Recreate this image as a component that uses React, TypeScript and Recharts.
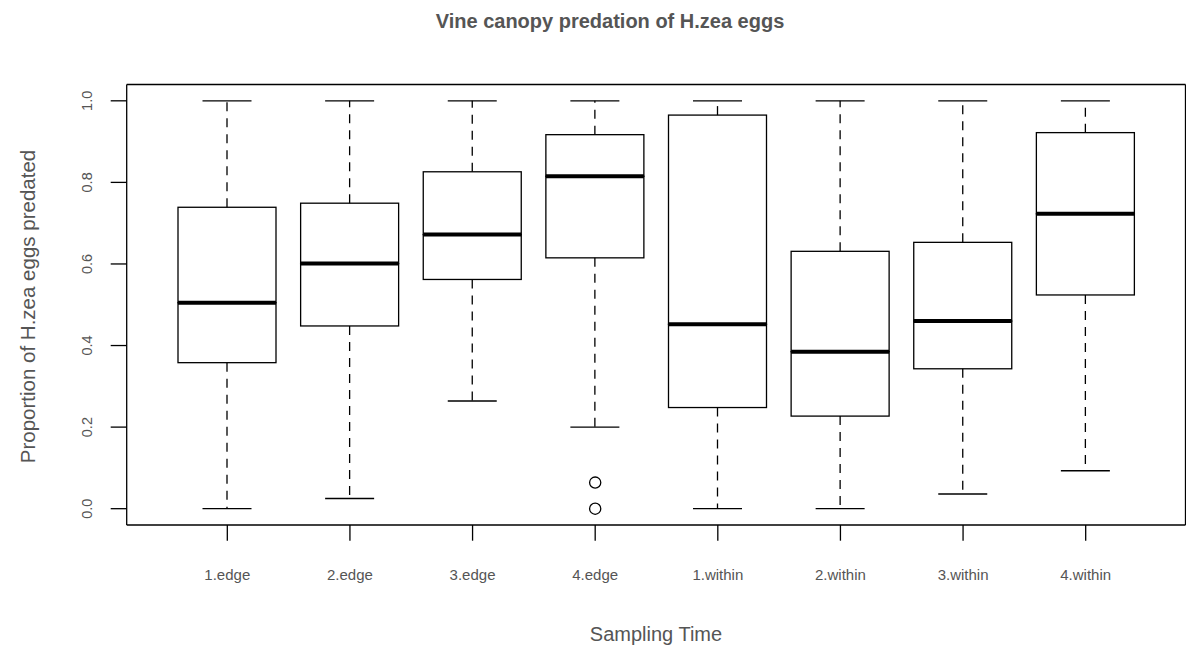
import React from "react";
import { ComposedChart, Bar, Scatter, XAxis, YAxis } from "recharts";

const categories = ["1.edge", "2.edge", "3.edge", "4.edge", "1.within", "2.within", "3.within", "4.within"];
const lowerWhisker = [0, 0.025, 0.264, 0.2, 0, 0, 0.036, 0.093];
const lowerQuartile = [0.358, 0.448, 0.562, 0.615, 0.248, 0.227, 0.343, 0.524];
const medians = [0.505, 0.601, 0.672, 0.815, 0.452, 0.385, 0.46, 0.723];
const upperQuartile = [0.739, 0.749, 0.826, 0.917, 0.965, 0.631, 0.653, 0.922];
const upperWhisker = [1, 1, 1, 1, 1, 1, 1, 1];
const outlierGroups = ["4.edge", "4.edge"];
const outlierValues = [0.064, 0];
const yTicks = [0, 0.2, 0.4, 0.6, 0.8, 1.0];

const data = categories.map((cat, i) => {
  const outs = outlierValues.filter((_, j) => outlierGroups[j] === cat);
  return {
    cat,
    base: lowerWhisker[i],
    lowW: lowerQuartile[i] - lowerWhisker[i],
    boxLow: medians[i] - lowerQuartile[i],
    boxHigh: upperQuartile[i] - medians[i],
    highW: upperWhisker[i] - upperQuartile[i],
    out1: outs.length > 0 ? outs[0] : null,
    out2: outs.length > 1 ? outs[1] : null,
  };
});

const FONT = "'Liberation Sans', Arial, Helvetica, sans-serif";
const TEXT = "#555";
const LINE = 1.3;
const frame = { stroke: "#000", strokeWidth: LINE };
const xPadding = { left: 39.3, right: 38.5 };

const Nothing = () => <g />;

const LowerWhisker = (p: any) => {
  const cx = p.x + p.width / 2;
  const cap = p.width / 4;
  const bottom = p.y + p.height;
  return (
    <g>
      <line x1={cx} x2={cx} y1={p.y} y2={bottom} stroke="#000" strokeWidth={LINE} strokeDasharray="9 7" />
      <line x1={cx - cap} x2={cx + cap} y1={bottom} y2={bottom} stroke="#000" strokeWidth={LINE} />
    </g>
  );
};

const UpperWhisker = (p: any) => {
  const cx = p.x + p.width / 2;
  const cap = p.width / 4;
  const bottom = p.y + p.height;
  return (
    <g>
      <line x1={cx} x2={cx} y1={bottom} y2={p.y} stroke="#000" strokeWidth={LINE} strokeDasharray="9 7" />
      <line x1={cx - cap} x2={cx + cap} y1={p.y} y2={p.y} stroke="#000" strokeWidth={LINE} />
    </g>
  );
};

const BoxLow = (p: any) => (
  <rect x={p.x} y={p.y} width={p.width} height={p.height} fill="none" stroke="#000" strokeWidth={LINE} />
);

const BoxHigh = (p: any) => {
  const bottom = p.y + p.height;
  return (
    <g>
      <rect x={p.x} y={p.y} width={p.width} height={p.height} fill="none" stroke="#000" strokeWidth={LINE} />
      <line x1={p.x} x2={p.x + p.width} y1={bottom} y2={bottom} stroke="#000" strokeWidth={4} />
    </g>
  );
};

const makeOutlier = (key: string) => (p: any) => {
  const v = p.payload ? p.payload[key] : null;
  if (v == null || p.cy == null || !isFinite(p.cy)) return <g />;
  return <circle cx={p.cx} cy={p.cy} r={5.6} fill="none" stroke="#000" strokeWidth={LINE} />;
};

const XTick = (p: any) => (
  <text x={p.x} y={p.y + 37} textAnchor="middle" fontFamily={FONT} fontSize={15} fill={TEXT}>
    {p.payload.value}
  </text>
);

const YTick = (p: any) => (
  <text
    transform={`translate(${p.x - 16.5},${p.y}) rotate(-90)`}
    textAnchor="middle"
    fontFamily={FONT}
    fontSize={14.5}
    fill={TEXT}
  >
    {Number(p.payload.value).toFixed(1)}
  </text>
);

export default function App() {
  return (
    <div style={{ position: "absolute", left: 0, top: 0, background: "#fff" }}>
      <ComposedChart
        width={1186}
        height={648}
        data={data}
        margin={{ top: 83.5, right: 0, bottom: 0, left: 0 }}
      >
        <XAxis
          dataKey="cat"
          interval={0}
          height={123}
          padding={xPadding}
          axisLine={frame}
          tickSize={15.7}
          tickLine={frame}
          tick={<XTick />}
          label={{
            content: () => (
              <text x={656} y={641} textAnchor="middle" fontFamily={FONT} fontSize={20} fill={TEXT}>
                Sampling Time
              </text>
            ),
          }}
        />
        <XAxis
          xAxisId="top"
          orientation="top"
          dataKey="cat"
          height={1}
          padding={xPadding}
          tick={false}
          tickLine={false}
          axisLine={frame}
          label={{
            content: () => (
              <text x={610} y={28} textAnchor="middle" fontFamily={FONT} fontSize={20} fontWeight="bold" fill={TEXT}>
                Vine canopy predation of H.zea eggs
              </text>
            ),
          }}
        />
        <YAxis
          width={126.7}
          domain={[-0.04, 1.04]}
          ticks={yTicks}
          axisLine={frame}
          tickSize={16}
          tickLine={frame}
          tick={<YTick />}
          label={{
            content: () => (
              <text
                transform="translate(35,306.5) rotate(-90)"
                textAnchor="middle"
                fontFamily={FONT}
                fontSize={20.5}
                fill={TEXT}
              >
                Proportion of H.zea eggs predated
              </text>
            ),
          }}
        />
        <YAxis
          yAxisId="right"
          orientation="right"
          width={0.5}
          domain={[-0.04, 1.04]}
          tick={false}
          tickLine={false}
          axisLine={frame}
        />
        <Bar dataKey="base" stackId="box" barSize={98} shape={<Nothing />} isAnimationActive={false} />
        <Bar dataKey="lowW" stackId="box" barSize={98} shape={<LowerWhisker />} isAnimationActive={false} />
        <Bar dataKey="boxLow" stackId="box" barSize={98} shape={<BoxLow />} isAnimationActive={false} />
        <Bar dataKey="boxHigh" stackId="box" barSize={98} shape={<BoxHigh />} isAnimationActive={false} />
        <Bar dataKey="highW" stackId="box" barSize={98} shape={<UpperWhisker />} isAnimationActive={false} />
        <Scatter dataKey="out1" shape={makeOutlier("out1")} isAnimationActive={false} />
        <Scatter dataKey="out2" shape={makeOutlier("out2")} isAnimationActive={false} />
        {/* invisible series so the top and right frame axes are drawn */}
        <Scatter
          dataKey="base"
          xAxisId="top"
          yAxisId="right"
          shape={<Nothing />}
          legendType="none"
          isAnimationActive={false}
        />
      </ComposedChart>
    </div>
  );
}
